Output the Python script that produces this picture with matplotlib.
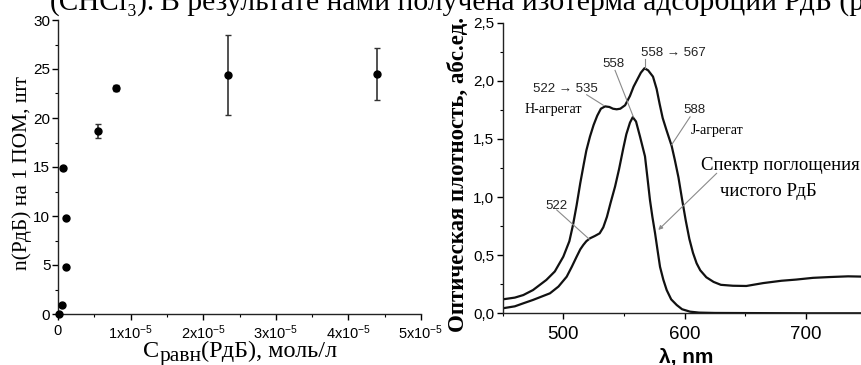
import numpy as np
import matplotlib
matplotlib.use("Agg")
import matplotlib.pyplot as plt
from matplotlib.ticker import MultipleLocator, FuncFormatter

plt.rcParams['font.family'] = ['Liberation Sans', 'DejaVu Sans']
plt.rcParams['mathtext.fontset'] = 'custom'
plt.rcParams['mathtext.rm'] = 'Liberation Sans'

# ---- left panel: adsorption isotherm ----
c_eq = [0.01e-5, 0.05e-5, 0.115e-5, 0.115e-5, 0.073e-5, 0.555e-5, 0.795e-5, 2.345e-5, 4.40e-5]
n_rdb = [0.05, 0.9, 4.8, 9.75, 14.85, 18.65, 23.1, 24.4, 24.5]
n_err = [0, 0, 0, 0, 0.15, 0.7, 0.3, 4.05, 2.65]

x_ticks = [0, 1e-5, 2e-5, 3e-5, 4e-5, 5e-5]
x_ticklabels = ['0', r'$\mathregular{1x10^{-5}}$', r'$\mathregular{2x10^{-5}}$',
                r'$\mathregular{3x10^{-5}}$', r'$\mathregular{4x10^{-5}}$', r'$\mathregular{5x10^{-5}}$']

# ---- right panel: absorption spectra ----
wl_agg = [450, 460, 467, 475, 486, 493, 500, 505, 508, 511, 514, 517, 519, 522, 525, 528,
          531, 534.5, 538, 541, 544, 547, 551, 555, 558, 561, 564, 567, 570, 574, 577,
          579.5, 582, 585, 589.4, 592, 595, 598, 601, 604, 607, 610, 613, 618, 624,
          630, 640, 651, 665, 680, 692, 706, 720, 735, 750]
abs_agg = [0.12, 0.135, 0.157, 0.2, 0.287, 0.36, 0.487, 0.62, 0.76, 0.93, 1.12, 1.29, 1.40,
           1.52, 1.62, 1.70, 1.76, 1.78, 1.775, 1.76, 1.755, 1.76, 1.79, 1.87, 1.95, 2.01,
           2.07, 2.108, 2.09, 2.036, 1.93, 1.80, 1.68, 1.58, 1.44, 1.32, 1.17, 0.98, 0.80,
           0.64, 0.52, 0.43, 0.37, 0.31, 0.27, 0.245, 0.237, 0.235, 0.26, 0.28, 0.29, 0.305,
           0.312, 0.318, 0.315]

wl_pure = [450, 460, 467, 475, 489, 496, 502.8, 507, 511, 514, 516.5, 519, 522, 526, 530,
           533, 536, 539, 542.7, 546, 549.5, 552, 555, 557.3, 560, 563.3, 567.4, 569.5,
           571.5, 573.5, 575.7, 577.8, 579.8, 582.5, 585.3, 589, 593.6, 598, 604.6, 612,
           625, 650, 700, 750]
abs_pure = [0.043, 0.06, 0.086, 0.115, 0.172, 0.23, 0.315, 0.40, 0.487, 0.55, 0.588, 0.62,
            0.645, 0.665, 0.688, 0.74, 0.83, 0.95, 1.09, 1.24, 1.42, 1.54, 1.64, 1.687,
            1.65, 1.52, 1.35, 1.16, 0.975, 0.83, 0.69, 0.54, 0.40, 0.29, 0.2, 0.12, 0.071,
            0.035, 0.014, 0.006, 0.003, 0.002, 0.0, 0.0]

serif = ['Liberation Serif', 'DejaVu Serif']
grey = '#8a8a8a'

fig = plt.figure(figsize=(8.61, 3.65), dpi=100)

# cut-off line of body text at top
fig.text(155 / 861, 1 - 10 / 365, '(CHCl\u2083).', family=serif, fontsize=21,
         va='baseline', ha='right')
fig.text(160 / 861, 1 - 10 / 365, 'В результате нами получена изотерма адсорбции РдБ (р',
         family=serif, fontsize=21.3, va='baseline', ha='left')

ax1 = fig.add_axes([58 / 861, 1 - 314 / 365, (421 - 58) / 861, (314 - 20) / 365])
ax1.errorbar(c_eq, n_rdb, yerr=n_err, fmt='o', color='black', ms=5,
             ecolor='#333333', elinewidth=1.2, capsize=2.5, capthick=1.0, clip_on=False, zorder=3)
ax1.set_xlim(0, 5e-5)
ax1.set_ylim(0, 30)
ax1.set_xticks(x_ticks)
ax1.set_xticklabels(x_ticklabels)
ax1.xaxis.set_minor_locator(MultipleLocator(0.5e-5))
ax1.yaxis.set_major_locator(MultipleLocator(5))
ax1.yaxis.set_minor_locator(MultipleLocator(2.5))
for s in ['top', 'right']:
    ax1.spines[s].set_visible(False)
for s in ['left', 'bottom']:
    ax1.spines[s].set_linewidth(1.0)
    ax1.spines[s].set_color('#222222')
ax1.tick_params(which='major', direction='out', length=4, width=1.0, labelsize=11, pad=1.5)
ax1.tick_params(which='minor', direction='out', length=2, width=0.8)
ax1.tick_params(axis='x', labelsize=10.5, pad=3)

fig.text(22 / 861, 1 - 173.5 / 365, 'n(РдБ) на 1 ПОМ, шт', family=serif, fontsize=15.5,
         rotation=90, ha='center', va='center')

# x label: C with a large subscript, then the rest
t1 = fig.text(143 / 861, 1 - 357 / 365, 'C', family=serif, fontsize=17.5, ha='left', va='baseline')
t2 = ax1.annotate('равн', xy=(1, 0), xycoords=t1, xytext=(0, -3), textcoords='offset points',
                  family=serif, fontsize=15.5, ha='left', va='bottom', annotation_clip=False)
t3 = ax1.annotate('(РдБ), моль/л', xy=(1, 0), xycoords=t2, xytext=(0, 3),
                  textcoords='offset points', family=serif, fontsize=17.5, ha='left', va='bottom',
                  annotation_clip=False)

ax2 = fig.add_axes([502.7 / 861, 1 - 313.3 / 365, (866.3 - 502.7) / 861, (313.3 - 22.7) / 365])
ax2.plot(wl_agg, abs_agg, color='#111111', lw=1.6)
ax2.plot(wl_pure, abs_pure, color='#111111', lw=1.6)
ax2.set_xlim(450, 750)
ax2.set_ylim(0, 2.5)
ax2.xaxis.set_major_locator(MultipleLocator(100))
ax2.xaxis.set_minor_locator(MultipleLocator(50))
ax2.yaxis.set_major_locator(MultipleLocator(0.5))
ax2.yaxis.set_minor_locator(MultipleLocator(0.25))
ax2.yaxis.set_major_formatter(FuncFormatter(lambda v, p: f'{v:.1f}'.replace('.', ',')))
for s in ['top', 'right']:
    ax2.spines[s].set_visible(False)
for s in ['left', 'bottom']:
    ax2.spines[s].set_linewidth(1.0)
    ax2.spines[s].set_color('#222222')
ax2.tick_params(which='major', direction='out', length=4, width=1.0, pad=2)
ax2.tick_params(which='minor', direction='out', length=2.5, width=0.8)
ax2.tick_params(axis='y', labelsize=11)
ax2.tick_params(axis='x', labelsize=13.5, pad=5)

fig.text(458 / 861, 1 - 174 / 365, 'Оптическая плотность, абс.ед.', family=serif,
         fontsize=16.5, fontweight='bold', rotation=90, ha='center', va='center')
fig.text(686 / 861, 1 - 363 / 365, 'λ, nm', fontsize=15, fontweight='bold',
         ha='center', va='baseline')

# annotations
lab = dict(fontsize=9.5, color='#222222')
ax2.text(564, 2.21, '558 \u2192 567', ha='left', va='baseline', **lab)
ax2.plot([567, 567], [2.19, 2.11], color=grey, lw=0.8)
ax2.text(541, 2.12, '558', ha='center', va='baseline', **lab)
ax2.plot([542.7, 557.8], [2.09, 1.69], color=grey, lw=0.8)
ax2.text(502, 1.90, '522 \u2192 535', ha='center', va='baseline', **lab)
ax2.plot([519.3, 533], [1.88, 1.79], color=grey, lw=0.8)
ax2.text(492, 1.72, 'H-агрегат', ha='center', va='baseline', family=serif, fontsize=10)
ax2.text(608, 1.72, '588', ha='center', va='baseline', **lab)
ax2.plot([604.6, 589.4], [1.69, 1.45], color=grey, lw=0.8)
ax2.text(627, 1.545, 'J-агрегат', ha='center', va='baseline', family=serif, fontsize=10)
ax2.text(494.5, 0.90, '522', ha='center', va='baseline', **lab)
ax2.plot([494.6, 521.5], [0.889, 0.637], color=grey, lw=0.8)
ax2.text(679, 1.23, 'Спектр поглощения', ha='center', va='baseline', family=serif, fontsize=13.5)
ax2.text(669, 1.01, 'чистого РдБ', ha='center', va='baseline', family=serif, fontsize=13.5)
ax2.annotate('', xy=(578.4, 0.717), xytext=(626.6, 1.205),
             arrowprops=dict(arrowstyle='-|>', color=grey, lw=0.8, mutation_scale=6,
                             shrinkA=0, shrinkB=0))

fig.savefig('out.png', dpi=100)
